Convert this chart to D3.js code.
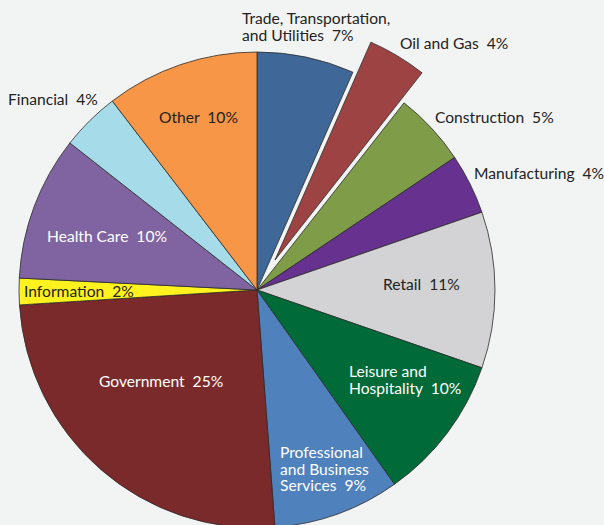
<!DOCTYPE html>
<html>
<head>
<meta charset="utf-8">
<script src="https://cdn.jsdelivr.net/npm/d3@7"></script>
<style>
  body { margin: 0; background: #f2f4f3; }
  svg { display: block; }
  text { font-family: Lato, "Open Sans", sans-serif; font-size: 15.6px; }
</style>
</head>
<body>
<div id="chart"></div>
<script>
// sectors, clockwise from 12 o'clock
const sectors = ['Trade, Transportation, and Utilities', 'Oil and Gas', 'Construction', 'Manufacturing',
    'Retail', 'Leisure and Hospitality', 'Professional and Business Services', 'Government',
    'Information', 'Health Care', 'Financial', 'Other'];
// share of jobs (angle), and the printed rounded percent
const shares = [6.6, 4.0, 5.0, 4.1, 10.6, 9.9, 8.6, 25.2, 1.8, 9.8, 4.0, 10.4];
const pctLabels = ['7%', '4%', '5%', '4%', '11%', '10%', '9%', '25%', '2%', '10%', '4%', '10%'];
// label lines (the percent is appended to the last line)
const labelLines = [
    ['Trade, Transportation,', 'and Utilities'], ['Oil and Gas'], ['Construction'], ['Manufacturing'],
    ['Retail'], ['Leisure and', 'Hospitality'], ['Professional', 'and Business', 'Services'], ['Government'],
    ['Information'], ['Health Care'], ['Financial'], ['Other']
];

const colors = ['#3f6899', '#9e4343', '#7f9c48', '#66318f', '#d3d3d5', '#006a38',
    '#4f81bd', '#7b2a2c', '#fff21f', '#8064a2', '#a6dcea', '#f79646'];
const textColors = ['#222', '#222', '#222', '#222', '#222', '#fff', '#fff', '#fff', '#222', '#fff', '#222', '#222'];
// label anchor (left x, first baseline y) in page pixels
const labelPos = [[242, 24], [400, 49], [435, 123], [474, 179], [383, 290], [349, 377],
    [280, 458], [99, 387], [24, 297], [47, 242], [8, 105], [159, 123]];

const width = 604, height = 525;
const cx = 257, cy = 290, radius = 238;
const explodeIndex = 1, explodeBy = 35;

const svg = d3.select('#chart').append('svg')
    .attr('width', width)
    .attr('height', height);

svg.append('rect').attr('width', width).attr('height', height).attr('fill', '#f2f4f3');

const pie = d3.pie().sort(null).value(d => d.v);
const arc = d3.arc().innerRadius(0).outerRadius(radius);

const data = sectors.map((s, i) => ({ name: s, v: shares[i], i }));
const arcs = pie(data);

const g = svg.append('g').attr('transform', `translate(${cx},${cy})`);

g.selectAll('path')
    .data(arcs)
    .enter()
    .append('path')
    .attr('d', arc)
    .attr('fill', d => colors[d.data.i])
    .attr('stroke', '#2b2b2b')
    .attr('stroke-width', 0.8)
    .attr('stroke-linejoin', 'round')
    .attr('transform', d => {
        if (d.data.i !== explodeIndex) return null;
        const mid = (d.startAngle + d.endAngle) / 2;
        return `translate(${Math.sin(mid) * explodeBy},${-Math.cos(mid) * explodeBy})`;
    });

// labels
const labels = svg.append('g').attr('class', 'labels');
labelLines.forEach((lines, i) => {
    const t = labels.append('text')
        .attr('x', labelPos[i][0])
        .attr('y', labelPos[i][1])
        .attr('fill', textColors[i]);
    lines.forEach((line, j) => {
        const last = j === lines.length - 1;
        t.append('tspan')
            .attr('x', labelPos[i][0])
            .attr('dy', j === 0 ? 0 : 16.5)
            .attr('xml:space', 'preserve')
            .text(last ? line + '  ' + pctLabels[i] : line);
    });
});
</script>
</body>
</html>
